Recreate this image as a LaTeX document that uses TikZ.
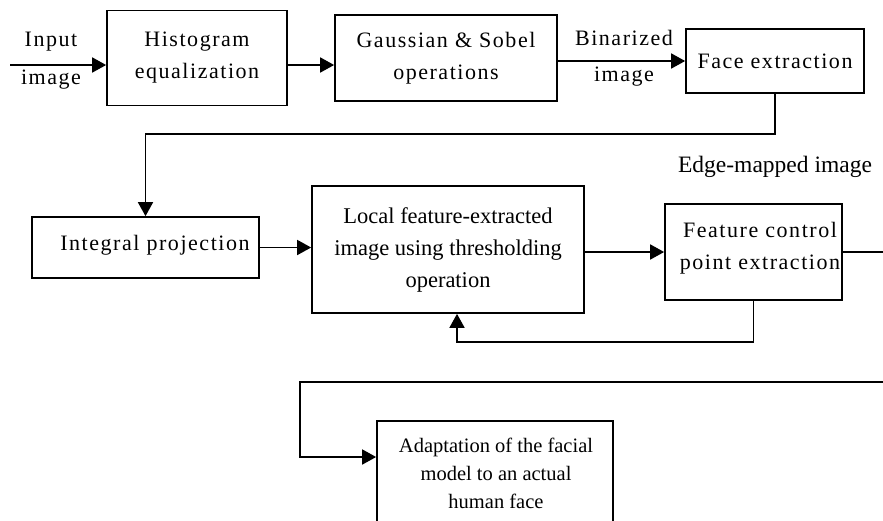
\documentclass[tikz,border=0pt]{standalone}
\usepackage{fontspec}
\setmainfont{Liberation Serif}
\newfontfamily\spaced[LetterSpace=7]{Liberation Serif}
\usetikzlibrary{arrows.meta}
\tikzset{
  box/.style={draw, line width=1.7pt, inner sep=0pt, align=center},
  sptext/.style={font=\spaced\fontsize{22}{32}\selectfont, align=center},
  nmtext/.style={font=\fontsize{22.5}{32}\selectfont, align=center},
  conn/.style={line width=1.7pt},
  arr/.style={conn, -{Triangle[length=14pt,width=15pt]}},
}
\begin{document}
\begin{tikzpicture}[x=1pt,y=-1pt]
\useasboundingbox (0,0) rectangle (883,520);
% boxes
\node[box, sptext, minimum width=180pt, minimum height=95pt] (hist) at (197,58) {Histogram\\equalization};
\node[box, sptext, minimum width=222pt, minimum height=86pt] (gauss) at (446,58) {Gaussian \& Sobel\\operations};
\node[box, sptext, minimum width=178pt, minimum height=64pt] (face) at (775,61) {Face extraction};
\node[box, minimum width=227pt, minimum height=61pt] (integ) at (145.5,247.5) {};
\node[sptext] (integt) at (155,245) {Integral projection};
\node[box, nmtext, minimum width=272pt, minimum height=127pt] (local) at (448,249.5) {Local feature-extracted\\image using thresholding\\operation};
\node[box, minimum width=177pt, minimum height=96pt] (feat) at (753.5,252) {};
\node[sptext] (featt) at (760,248) {Feature control\\point extraction};
\node[box, minimum width=236pt, minimum height=120pt, anchor=north] (adapt) at (495,420) {};
\node[font=\fontsize{20.5}{28}\selectfont, align=center] (adaptt) at (496,473) {Adaptation of the facial\\model to an actual\\human face};
% labels
\node[sptext, font=\spaced\fontsize{22}{38}\selectfont] (inlab) at (51,61) {Input\\image};
\node[sptext, font=\spaced\fontsize{22}{36}\selectfont] (binlab) at (624,58) {Binarized\\image};
\node[font=\fontsize{23.5}{24}\selectfont] (edgelab) at (775,167) {Edge-mapped image};
% coordinates
\coordinate (in) at (10,65);
\coordinate (c1) at (0,134);
\coordinate (r1) at (883,251);
\coordinate (fb) at (457,342);
\coordinate (r2) at (883,382);
\coordinate (c2) at (300,382);
\coordinate (c3) at (300,457);
% connectors
\draw[arr] (in) -- (in -| hist.west);
\draw[arr] (hist.east |- in) -- (gauss.west |- in);
\draw[arr] (gauss.east |- face.west) -- (face.west);
\draw[arr] (face.south) -- (face.south |- c1) -| (integ.north);
\draw[arr] (integ.east) -- (local.west |- integ.east);
\draw[arr] (local.east |- feat.west) -- (feat.west);
\draw[conn] (feat.east) -- (feat.east -| r1);
\draw[arr] (feat.south) |- (fb) -- (fb |- local.south);
\draw[arr] (r2) -- (c2) -- (c3) -- (c3 -| adapt.west);
\end{tikzpicture}
\end{document}
